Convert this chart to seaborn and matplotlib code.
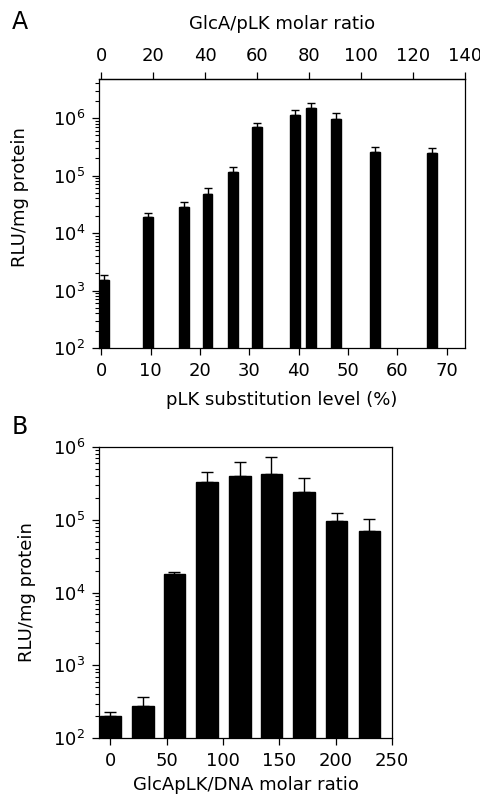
import numpy as np
import pandas as pd
import matplotlib
matplotlib.use("Agg")
import matplotlib.pyplot as plt
import seaborn as sns
from matplotlib.ticker import FixedLocator, FuncFormatter

# ---- panel A: transfection vs pLK substitution level ----
subst_level = [0.5, 9.4, 16.8, 21.5, 26.7, 31.5, 39.3, 42.4, 47.6, 55.4, 67.0]
rlu_a = [1550, 18700, 28300, 48300, 115000, 689000, 1.14e6, 1.51e6, 9.5e5, 2.6e5, 2.5e5]
rlu_a_upper = [1860, 22700, 34100, 59800, 139000, 808000, 1.40e6, 1.82e6, 1.21e6, 3.09e5, 3.01e5]
ratio_top_max = 140
subst_max = 73.7

# ---- panel B: transfection vs GlcApLK/DNA molar ratio ----
molar_ratio = [0, 29, 57, 86, 115, 143, 172, 201, 230]
rlu_b = [205, 281, 17700, 331000, 400000, 426000, 242000, 95700, 69000]
rlu_b_upper = [232, 365, 18900, 444000, 622000, 714000, 376000, 122000, 103000]

sns.set_style("ticks")
plt.rcParams["font.family"] = ["DejaVu Sans"]
plt.rcParams["font.size"] = 13
plt.rcParams["axes.linewidth"] = 0.9
plt.rcParams["text.color"] = "black"
plt.rcParams["axes.labelcolor"] = "black"
plt.rcParams["xtick.color"] = "black"
plt.rcParams["ytick.color"] = "black"

fig = plt.figure(figsize=(4.81, 7.95), dpi=100)
ax_a = fig.add_axes([0.2058, 0.5623, 0.761, 0.3384])
ax_b = fig.add_axes([0.2058, 0.0713, 0.609, 0.3668])

# log ticks: decades labelled, 2..9 in each decade unlabelled and shorter
decades = [10.0 ** d for d in range(2, 7)]
minor_y = [m * 10.0 ** d for d in range(2, 7) for m in range(2, 10)]


def decade_label(v, pos):
    if v in decades:
        return r"$\mathdefault{10^{%d}}$" % round(np.log10(v))
    return ""


def style_axis(ax, ymax):
    for s in ax.spines.values():
        s.set_visible(True)
        s.set_color("black")
    locs = sorted([v for v in decades + minor_y if v <= ymax])
    ax.yaxis.set_major_locator(FixedLocator(locs))
    ax.yaxis.set_major_formatter(FuncFormatter(decade_label))
    ax.tick_params(axis="both", which="major", direction="out", length=5,
                   width=0.9, labelsize=13, pad=5)
    ax.tick_params(right=False, top=False, which="both")
    ax.set_ylim(1e2, ymax)
    # shorten the in-between ticks
    for loc, tick in zip(locs, ax.yaxis.get_major_ticks(len(locs))):
        if loc not in decades:
            tick.tick1line.set_markersize(3)
            tick.tick1line.set_markeredgewidth(0.8)


# ==========================================
# Panel A
# ==========================================
ax_a.set_yscale("log")
df_a = pd.DataFrame({"x": subst_level, "y": rlu_a})
min_gap_a = np.min(np.diff(sorted(subst_level)))
sns.barplot(data=df_a, x="x", y="y", native_scale=True, width=2.0 / min_gap_a,
            color="black", edgecolor="black", errorbar=None, ax=ax_a)
ax_a.errorbar(subst_level, rlu_a,
              yerr=[np.zeros(len(rlu_a)), np.array(rlu_a_upper) - np.array(rlu_a)],
              fmt="none", ecolor="black", elinewidth=1, capsize=3, capthick=1)
ax_a.set_xlim(-0.5, subst_max)
ax_a.set_xticks(range(0, 80, 10))
ax_a.set_xlabel("pLK substitution level (%)", fontsize=13, labelpad=8)
ax_a.set_ylabel("RLU/mg protein", fontsize=13)
ax_a.yaxis.set_label_coords(-0.19, 0.56)

scale = ratio_top_max / subst_max
top = ax_a.secondary_xaxis("top", functions=(lambda x: x * scale, lambda x: x / scale))
top.set_xticks(range(0, 160, 20))
top.tick_params(direction="out", length=5, width=0.9, labelsize=13, pad=5)
top.set_xlabel("GlcA/pLK molar ratio", fontsize=13, labelpad=13)

# ==========================================
# Panel B
# ==========================================
ax_b.set_yscale("log")
df_b = pd.DataFrame({"x": molar_ratio, "y": rlu_b})
min_gap_b = np.min(np.diff(molar_ratio))
sns.barplot(data=df_b, x="x", y="y", native_scale=True, width=19.0 / min_gap_b,
            color="black", edgecolor="black", errorbar=None, ax=ax_b)
ax_b.errorbar(molar_ratio, rlu_b,
              yerr=[np.zeros(len(rlu_b)), np.array(rlu_b_upper) - np.array(rlu_b)],
              fmt="none", ecolor="black", elinewidth=1, capsize=4, capthick=1)
ax_b.set_xlim(-10, 250)
ax_b.set_xticks(range(0, 300, 50))
ax_b.set_xlabel("GlcApLK/DNA molar ratio", fontsize=13, labelpad=4)
ax_b.set_ylabel("RLU/mg protein", fontsize=13)
ax_b.yaxis.set_label_coords(-0.215, 0.5)

style_axis(ax_a, 4.8e6)
style_axis(ax_b, 1e6)

fig.text(0.042, 0.972, "A", fontsize=17, ha="center", va="center")
fig.text(0.042, 0.463, "B", fontsize=17, ha="center", va="center")

fig.savefig("out.png", dpi=100)
